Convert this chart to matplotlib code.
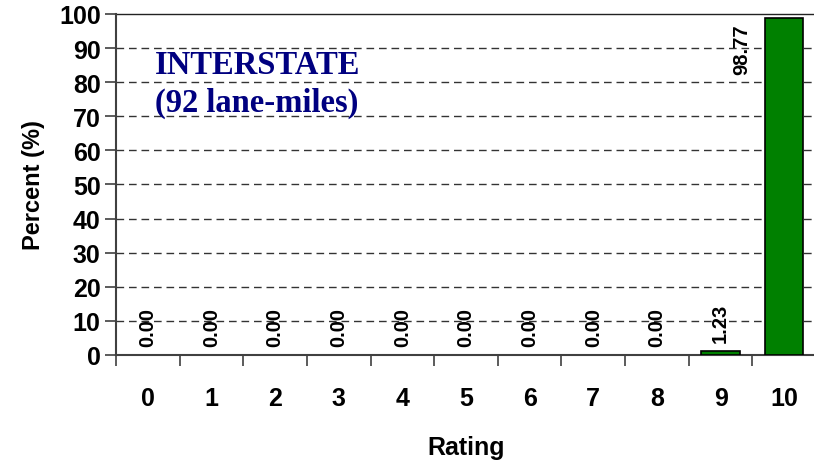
import matplotlib.pyplot as plt
from matplotlib.ticker import FixedLocator

# Data
ratings = ['0', '1', '2', '3', '4', '5', '6', '7', '8', '9', '10']
percent = [0.00, 0.00, 0.00, 0.00, 0.00, 0.00, 0.00, 0.00, 0.00, 1.23, 98.77]
yticks = [0, 10, 20, 30, 40, 50, 60, 70, 80, 90, 100]

plt.rcParams['font.family'] = ['Liberation Sans', 'DejaVu Sans']

fig = plt.figure(figsize=(8.14, 4.64), dpi=100)
ax = fig.add_axes([0.1425, 0.2328, 0.86, 0.7349])

x = list(range(len(ratings)))
lw = [1.2 if v > 0 else 0 for v in percent]
ax.bar(x, percent, width=0.6, color='#008000', edgecolor='black', linewidth=lw, zorder=3)

ax.set_xlim(-0.5, 10.5)
ax.set_ylim(0, 100)

# dashed gridlines
for v in yticks[1:-1]:
    ax.axhline(v, color='#333333', linestyle=(0, (5.5, 3.5)), linewidth=1.0, zorder=1)
ax.axhline(100, color='#222222', linewidth=1.0, zorder=1, clip_on=False)

# value labels
for i, v in enumerate(percent):
    if v > 90:
        ax.text(i - 0.67, 97.2, f'{v:.2f}', rotation=90, ha='center', va='top',
                fontsize=14.5, fontweight='bold', zorder=4)
    else:
        ax.text(i, v + 2.5, f'{v:.2f}', rotation=90, ha='center', va='bottom',
                fontsize=14.5, fontweight='bold', zorder=4)

ax.set_xticks(x)
ax.set_xticklabels(ratings, fontsize=18, fontweight='bold')
ax.xaxis.set_minor_locator(FixedLocator([i - 0.5 for i in range(len(ratings) + 1)]))
ax.tick_params(axis='x', which='major', length=0, pad=22)
ax.tick_params(axis='x', which='minor', length=8, width=1.2, color='#404040', direction='out')

ax.set_yticks(yticks)
ax.set_yticklabels(yticks, fontsize=18, fontweight='bold')
ax.tick_params(axis='y', length=8, width=1.2, color='#404040', direction='out', pad=3)

ax.set_xlabel('Rating', fontsize=18, fontweight='bold', labelpad=18)
ax.set_ylabel('Percent (%)', fontsize=17, fontweight='bold', labelpad=10)

for s in ['top', 'right']:
    ax.spines[s].set_visible(False)
for s in ['left', 'bottom']:
    ax.spines[s].set_color('#404040')
    ax.spines[s].set_linewidth(1.5)

fig.text(155 / 814, 1 - 74 / 464, 'INTERSTATE', family='Liberation Serif',
         fontweight='bold', fontsize=23.5, color='#000080', ha='left', va='baseline')
fig.text(155 / 814, 1 - 112 / 464, '(92 lane-miles)', family='Liberation Serif',
         fontweight='bold', fontsize=23.5, color='#000080', ha='left', va='baseline')

fig.savefig('out.png', dpi=100)
